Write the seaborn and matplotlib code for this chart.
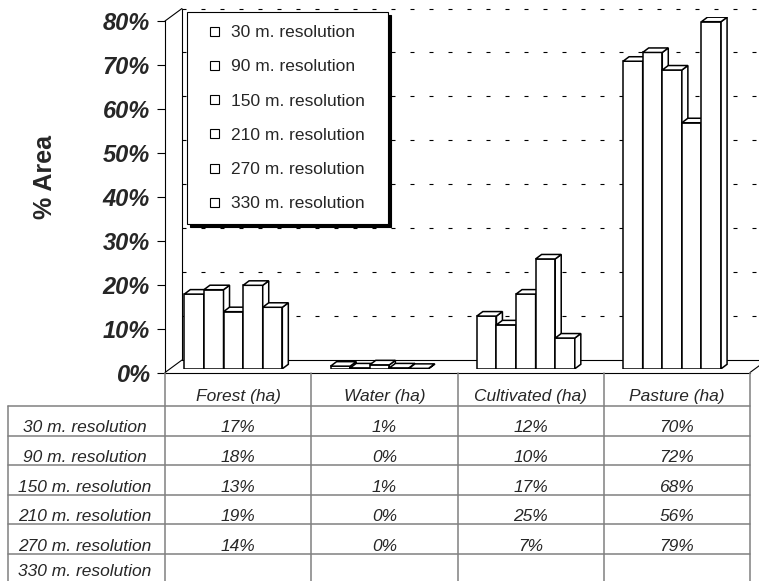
import numpy as np
import pandas as pd
import matplotlib
matplotlib.use("Agg")
import matplotlib.pyplot as plt
from matplotlib.patches import Polygon, Patch, Rectangle
from matplotlib.lines import Line2D
from matplotlib.legend_handler import HandlerPatch
import matplotlib.transforms as mtransforms
import seaborn as sns

covers = ["Forest (ha)", "Water (ha)", "Cultivated (ha)", "Pasture (ha)"]
resolutions = ["30 m. resolution", "90 m. resolution", "150 m. resolution",
               "210 m. resolution", "270 m. resolution", "330 m. resolution"]
pct_30 = [17, 0.6, 12, 70]
pct_90 = [18, 0.2, 10, 72]
pct_150 = [13, 0.9, 17, 68]
pct_210 = [19, 0.2, 25, 56]
pct_270 = [14, 0.1, 7, 79]
pct_330 = [None, None, None, None]   # no data in the source
y_ticks = [0, 10, 20, 30, 40, 50, 60, 70, 80]

series = [pct_30, pct_90, pct_150, pct_210, pct_270, pct_330]

# Styling
sns.set_theme(style="white")
plt.rcParams["font.family"] = ["Liberation Sans", "DejaVu Sans"]

W, H, DPI = 759, 581, 100
fig = plt.figure(figsize=(W / DPI, H / DPI), dpi=DPI)
fig.patch.set_facecolor("white")


def fx(px):
    return px / W


def fy(py):
    return 1 - py / H


# front plane of the plot
AX_L, AX_R, AX_T, AX_B = 165, 750, 21, 372.5
PX_X = (AX_R - AX_L) / 4
PX_Y = (AX_B - AX_T) / 80
wall_dx, wall_dy = 17 / PX_X, 12.5 / PX_Y
bar_dx, bar_dy = 6 / PX_X, 4.5 / PX_Y

ax = fig.add_axes([fx(AX_L), fy(AX_B), (AX_R - AX_L) / W, (AX_B - AX_T) / H])
ax.set_xlim(-0.5, 3.5)
ax.set_ylim(0, 80)
ax.set_facecolor("white")
for side in ["top", "right"]:
    ax.spines[side].set_visible(False)
for side in ["left", "bottom"]:
    ax.spines[side].set_color("black")
    ax.spines[side].set_linewidth(0.8)
ax.set_xticks([])
ax.set_yticks(y_ticks)
ax.set_yticklabels([f"{t}%" for t in y_ticks], fontsize=17,
                   fontweight="bold", fontstyle="italic")
ax.tick_params(axis="y", direction="out", length=5.8, width=0.8,
               color="black", pad=5, left=True)

# back wall: dashed gridlines, floor edges, side wall
lk = dict(color="black", lw=0.8, clip_on=False, zorder=1)
x_back0 = -0.5 + wall_dx
for v in y_ticks[1:]:
    ax.plot([x_back0, 3.5 + wall_dx + 0.3], [v + wall_dy] * 2,
            linestyle=(0, (3.6, 13.5)), **lk)
ax.plot([x_back0, 3.5 + wall_dx + 0.3], [wall_dy, wall_dy], **lk)
ax.plot([x_back0, x_back0], [wall_dy, 80 + wall_dy], **lk)
ax.plot([-0.5, x_back0], [0, wall_dy], **lk)
ax.plot([-0.5, x_back0], [80, 80 + wall_dy], **lk)
ax.plot([3.5, 3.5 + wall_dx], [0, wall_dy], **lk)

# bars sit a little behind the front plane
ax_b = fig.add_axes([fx(AX_L - 4.8), fy(AX_B - 3.7),
                     (AX_R - AX_L) / W, (AX_B - AX_T) / H])
rows = []
for res, vals in zip(resolutions, series):
    for cov, v in zip(covers, vals):
        if v is not None:
            rows.append({"cover": cov, "res": res, "pct": v})
df = pd.DataFrame(rows)
hue_levels = [r for r, s in zip(resolutions, series) if s[0] is not None]

sns.barplot(data=df, x="cover", y="pct", hue="res", order=covers,
            hue_order=hue_levels, palette=["white"] * len(hue_levels),
            saturation=1, edgecolor="black", linewidth=1.1, width=0.67,
            errorbar=None, legend=False, ax=ax_b)
ax_b.set_xlim(-0.5, 3.5)
ax_b.set_ylim(0, 80)
ax_b.axis("off")
ax_b.patch.set_alpha(0)

# 3-D faces drawn from the seaborn bars, back (left) to front (right)
bars = sorted([p for p in ax_b.patches if isinstance(p, Rectangle)],
              key=lambda p: p.get_x())
for i, p in enumerate(bars):
    x0, w, h = p.get_x(), p.get_width(), p.get_height()
    z = 10 + i
    p.set_zorder(z)
    top = Polygon([(x0, h), (x0 + w, h), (x0 + w + bar_dx, h + bar_dy),
                   (x0 + bar_dx, h + bar_dy)], closed=True, facecolor="white",
                  edgecolor="black", lw=1.1, zorder=z, joinstyle="miter")
    side = Polygon([(x0 + w, 0), (x0 + w + bar_dx, bar_dy),
                    (x0 + w + bar_dx, h + bar_dy), (x0 + w, h)], closed=True,
                   facecolor="white", edgecolor="black", lw=1.1, zorder=z,
                   joinstyle="miter")
    ax_b.add_patch(side)
    ax_b.add_patch(top)

# legend with a small square marker
def small_square(legend, orig_handle, xdescent, ydescent, width, height, fontsize):
    s = 6.6
    return Rectangle((width - s - xdescent, -ydescent + (height - s) / 2), s, s)


handles = [Patch(facecolor="white", edgecolor="black", lw=0.8) for _ in resolutions]
leg = fig.legend(handles, resolutions, loc="upper left",
                 bbox_to_anchor=(fx(187), fy(220), (388 - 187) / W, (220 - 12) / H),
                 mode="expand", fontsize=12.5, frameon=True, fancybox=False,
                 framealpha=1, edgecolor="black", borderpad=0.75,
                 labelspacing=1.1, handlelength=1.1, handletextpad=0.7,
                 borderaxespad=0,
                 shadow={"color": "black", "alpha": 1},
                 handler_map={Patch: HandlerPatch(patch_func=small_square)})
leg.get_frame().set_linewidth(0.8)

fig.text(fx(45), fy(177), "% Area", rotation=90, fontsize=18,
         fontweight="bold", ha="center", va="center")

# data table under the chart
tcol = "#808080"
trans = mtransforms.blended_transform_factory(ax.transData, fig.transFigure)
header_top, header_bot = AX_B, 406
row_h = 29.6
row_tops = [header_bot + i * row_h for i in range(len(resolutions))]

for k in range(len(covers) + 1):
    fig.add_artist(Line2D([k - 0.5, k - 0.5], [fy(header_top), 0],
                          transform=trans, color=tcol, lw=1.1))
fig.add_artist(Line2D([fx(8), fx(8)], [fy(header_bot), 0],
                      transform=fig.transFigure, color=tcol, lw=1.1))
for yt in row_tops:
    fig.add_artist(Line2D([fx(8), fx(AX_R)], [fy(yt), fy(yt)],
                          transform=fig.transFigure, color=tcol, lw=1.1))

for k, cov in enumerate(covers):
    fig.text(k, fy(header_top + 29), cov, transform=trans, fontsize=12.5,
             fontstyle="italic", ha="center", va="baseline")

for r, (res, vals) in enumerate(zip(resolutions, series)):
    yb = fy(min(row_tops[r] + 26.5, 576.5))
    fig.text(fx(85), yb, res, fontsize=12.5, fontstyle="italic",
             ha="center", va="baseline")
    for k, v in enumerate(vals):
        if v is None:
            continue
        fig.text(k, yb, f"{v:.0f}%", transform=trans, fontsize=12.5,
                 fontstyle="italic", ha="center", va="baseline")

fig.savefig("out.png", dpi=DPI, facecolor="white")
